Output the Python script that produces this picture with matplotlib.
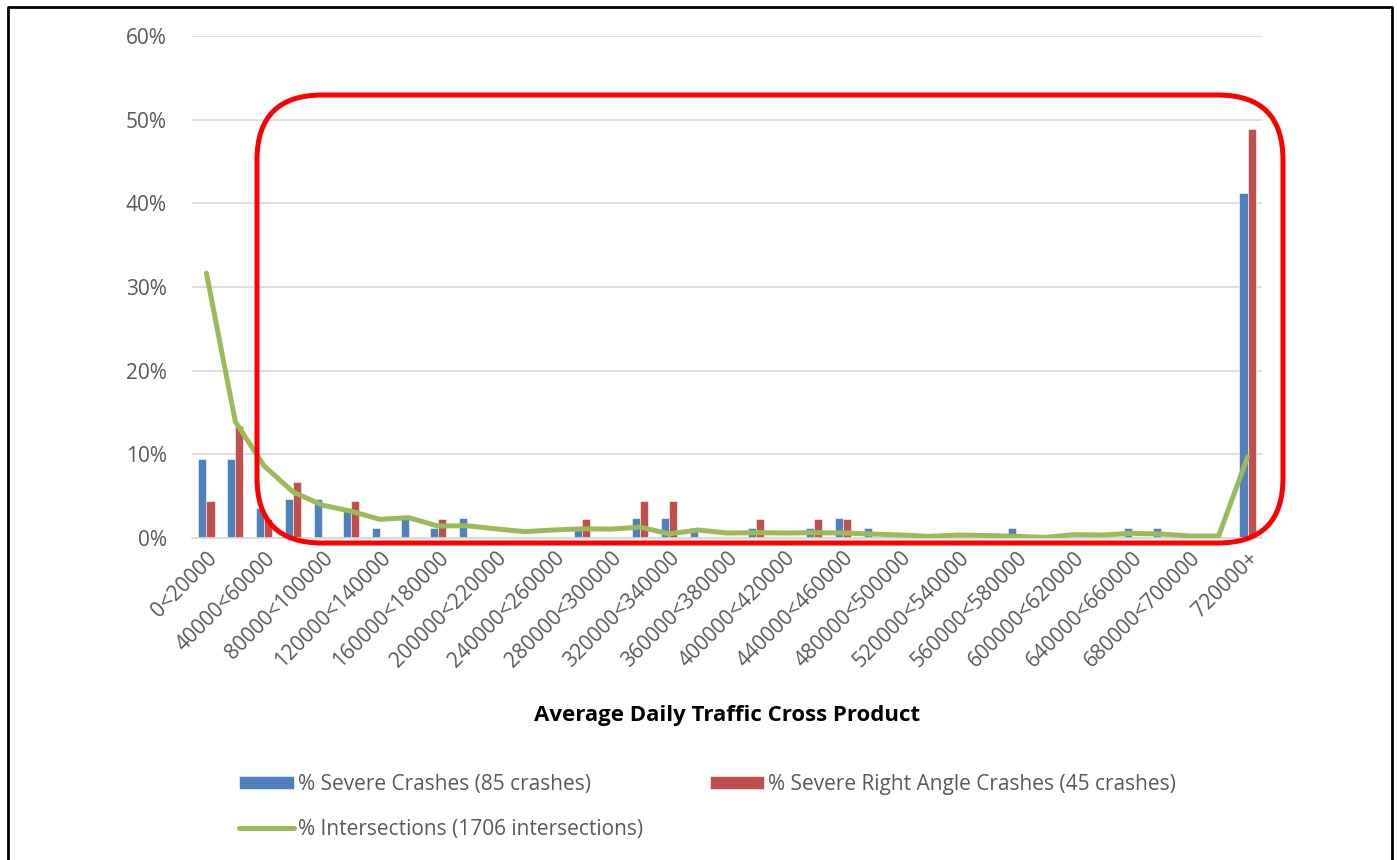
import numpy as np
import matplotlib
matplotlib.use("Agg")
import matplotlib.pyplot as plt
from matplotlib.patches import FancyBboxPatch
from matplotlib.lines import Line2D

# Bins of average daily traffic cross product
categories = ["%d<%d" % (lo, lo + 20000) for lo in range(0, 720000, 20000)] + ["720000+"]

# % of severe crashes (85 crashes)
severe = [9.41, 9.41, 3.53, 4.71, 4.71, 3.53, 1.18, 2.35, 1.18, 2.35,
          0, 0, 0, 1.18, 0, 2.35, 2.35, 1.18, 0, 1.18,
          0, 1.18, 2.35, 1.18, 0, 0, 0, 0, 1.18, 0,
          0, 0, 1.18, 1.18, 0, 0, 41.18]

# % of severe right angle crashes (45 crashes)
right_angle = [4.44, 13.33, 2.22, 6.67, 0, 4.44, 0, 0, 2.22, 0,
               0, 0, 0, 2.22, 0, 4.44, 4.44, 0, 0, 2.22,
               0, 2.22, 2.22, 0, 0, 0, 0, 0, 0, 0,
               0, 0, 0, 0, 0, 0, 48.89]

# % of intersections (1706 intersections)
intersections = [31.66, 13.9, 8.6, 5.5, 3.94, 3.2, 2.23, 2.43, 1.43, 1.47,
                 1.1, 0.76, 0.96, 1.1, 1.07, 1.3, 0.5, 0.96, 0.6, 0.64,
                 0.6, 0.64, 0.6, 0.48, 0.36, 0.2, 0.36, 0.3, 0.2, 0.08,
                 0.4, 0.36, 0.56, 0.48, 0.24, 0.24, 9.7]

plt.rcParams['font.family'] = ['Open Sans', 'DejaVu Sans']

fig = plt.figure(figsize=(13.97, 8.6), dpi=100)
ax = fig.add_axes([0.1374, 0.3744, 0.766, 0.5837])

x = np.arange(len(categories))
w = 0.28
b1 = ax.bar(x - w / 2, np.array(severe) / 100, w, color='#4f81bd',
            edgecolor='white', linewidth=0.4, label='% Severe Crashes (85 crashes)', zorder=2)
b2 = ax.bar(x + w / 2, np.array(right_angle) / 100, w, color='#c0504d',
            edgecolor='white', linewidth=0.4, label='% Severe Right Angle Crashes (45 crashes)', zorder=2)
ln, = ax.plot(x, np.array(intersections) / 100, color='#9bbb59', linewidth=3.6,
              solid_capstyle='round', label='% Intersections (1706 intersections)', zorder=3)

ax.set_xlim(-0.5, len(categories) - 0.5)
ax.set_ylim(0, 0.6)
ax.set_yticks(np.arange(0, 0.61, 0.1))
ax.set_yticklabels(["%d%%" % round(v * 100) for v in np.arange(0, 0.61, 0.1)])
ax.grid(axis='y', color='#d9d9d9', linewidth=1.2, zorder=0)
ax.set_axisbelow(True)
for s in ['left', 'right', 'top']:
    ax.spines[s].set_visible(False)
ax.spines['bottom'].set_color('#d9d9d9')
ax.spines['bottom'].set_linewidth(1.2)
ax.tick_params(axis='y', length=0, pad=18, labelsize=15, labelcolor='#595959')
ax.tick_params(axis='x', length=0, pad=7, labelsize=15, labelcolor='#595959')

ax.set_xticks(x[::2])
ax.set_xticklabels(categories[::2], rotation=45, ha='right', rotation_mode='anchor')

ax.set_xlabel('Average Daily Traffic Cross Product', fontsize=16, fontweight='bold',
              color='black', labelpad=24)

fig.legend(handles=[b1, ln, b2], ncol=2, loc='upper left', bbox_to_anchor=(0.158, 0.122),
           bbox_transform=fig.transFigure, frameon=False, fontsize=15,
           labelcolor='#595959', handlelength=2.6, handleheight=0.6, handletextpad=0.2,
           columnspacing=3.2, labelspacing=1.15)

# red highlight box (inches)
box = FancyBboxPatch((2.57, 3.17), 10.26, 4.48, boxstyle="round,pad=0,rounding_size=0.65",
                     transform=fig.dpi_scale_trans, fill=False, edgecolor='#ff0000',
                     linewidth=3.6, zorder=10)
fig.patches.append(box)

# black frame around the chart
frame = Line2D([0.08, 0.08, 13.92, 13.92], [-0.1, 8.53, 8.53, -0.1],
               transform=fig.dpi_scale_trans, color='black', linewidth=2)
fig.lines.append(frame)

fig.savefig('out.png', dpi=100)
